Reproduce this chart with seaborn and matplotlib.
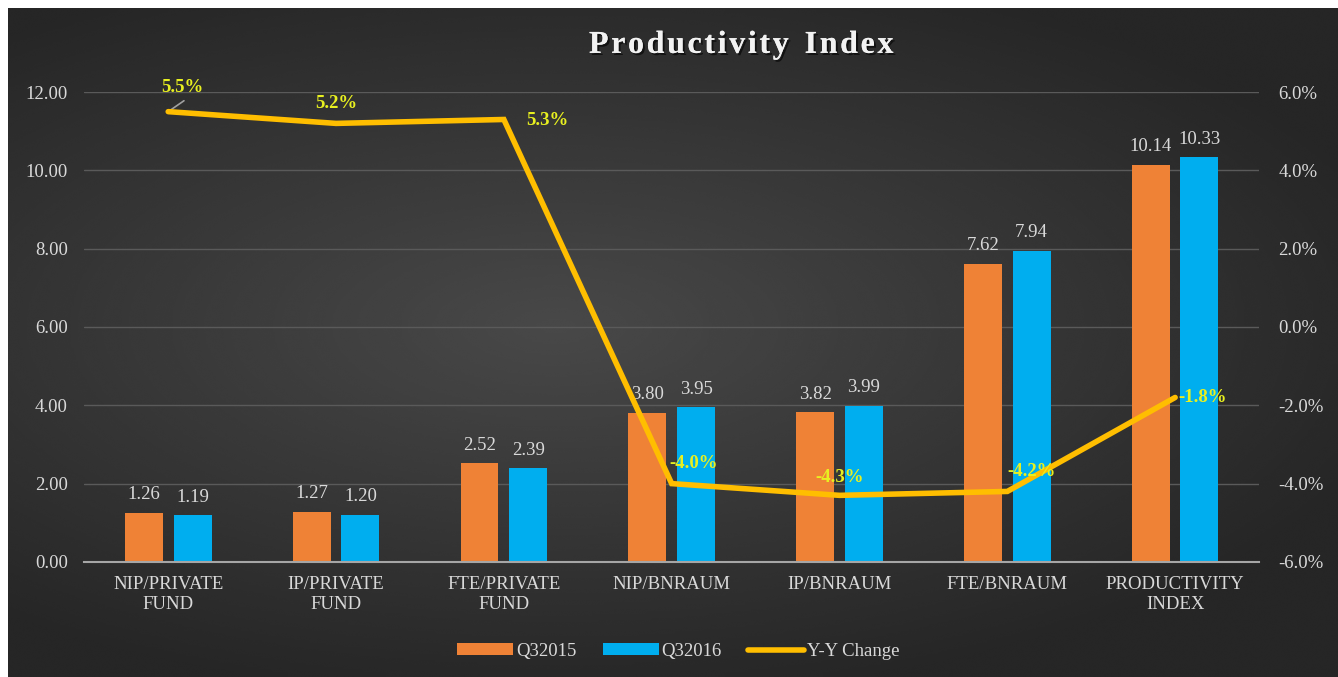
import numpy as np
import pandas as pd
import matplotlib
matplotlib.use("Agg")
import matplotlib.pyplot as plt
from matplotlib.lines import Line2D
from matplotlib.patches import Patch
import matplotlib.patheffects as pe
import seaborn as sns

# Data
categories = ["NIP/PRIVATE\nFUND", "IP/PRIVATE\nFUND", "FTE/PRIVATE\nFUND",
              "NIP/BNRAUM", "IP/BNRAUM", "FTE/BNRAUM", "PRODUCTIVITY\nINDEX"]
q32015 = [1.26, 1.27, 2.52, 3.80, 3.82, 7.62, 10.14]
q32016 = [1.19, 1.20, 2.39, 3.95, 3.99, 7.94, 10.33]
yy_change = [5.5, 5.2, 5.3, -4.0, -4.3, -4.2, -1.8]
series_names = ["Q32015", "Q32016"]

ORANGE = "#EF8236"
BLUE = "#00AEEF"
GOLD = "#FFBE00"
LABEL_YELLOW = "#E8F020"
TEXT = "#D9D9D9"
SERIF = "Liberation Serif"

df = pd.DataFrame({
    "category": categories * 2,
    "series": [series_names[0]] * len(categories) + [series_names[1]] * len(categories),
    "value": q32015 + q32016,
})

sns.set_theme(style="dark")
plt.rcParams["font.family"] = [SERIF, "DejaVu Serif"]

fig = plt.figure(figsize=(13.38, 6.77), dpi=100)
fig.patch.set_facecolor("white")

# dark gradient background (white strip on top and left like the source)
bg = fig.add_axes([8 / 1338, 0, 1 - 8 / 1338, 1 - 8 / 677])
gx, gy = np.meshgrid(np.linspace(-1, 1, 600), np.linspace(-1, 1, 300))
r = np.sqrt((gx * 0.85 + 0.15) ** 2 + (gy * 1.0 + 0.05) ** 2)
shade = np.clip(0.285 - 0.12 * r, 0.15, 0.30)
bg.imshow(shade, cmap="gray", vmin=0, vmax=1, aspect="auto", extent=[0, 1, 0, 1],
          interpolation="bicubic")
bg.set_axis_off()

ax = fig.add_axes([0.063, 0.170, 0.878, 0.694])
ax.patch.set_alpha(0)
sns.barplot(data=df, x="category", y="value", hue="series",
            palette=[ORANGE, BLUE], width=0.58, gap=0.22,
            saturation=1, ax=ax, legend=False, zorder=2,
            edgecolor="none", linewidth=0)

ax.set_ylim(0, 12)
ax.set_yticks(np.arange(0, 12.1, 2))
ax.set_yticklabels([f"{v:.2f}" for v in np.arange(0, 12.1, 2)])
ax.grid(axis="y", color="#5A5A5A", linewidth=1.0, zorder=0)
ax.grid(axis="x", visible=False)
ax.set_xlabel("")
ax.set_ylabel("")
for s in ["top", "right", "left"]:
    ax.spines[s].set_visible(False)
ax.spines["bottom"].set_color("#A6A6A6")
ax.spines["bottom"].set_linewidth(1.5)
ax.tick_params(axis="both", length=0, colors=TEXT, labelsize=13.5)
ax.tick_params(axis="x", pad=10)
ax.tick_params(axis="y", pad=12)
for lab in ax.get_xticklabels():
    lab.set_linespacing(1.25)
    lab.set_color(TEXT)

# bar value labels
for cont in ax.containers:
    ax.bar_label(cont, fmt="%.2f", padding=7, color=TEXT, fontsize=13.5)

# Y-Y change line on the secondary axis
ax2 = ax.twinx()
ax2.set_ylim(-6, 6)
ax2.set_yticks(np.arange(-6, 6.1, 2))
ax2.set_yticklabels([f"{v:.1f}%" for v in np.arange(-6, 6.1, 2)])
ax2.tick_params(axis="y", length=0, colors=TEXT, labelsize=13.5, pad=14)
for s in ax2.spines.values():
    s.set_visible(False)
ax2.grid(False)
xpos = np.arange(len(categories))
sns.lineplot(x=xpos, y=yy_change, color=GOLD, linewidth=4, ax=ax2,
             solid_capstyle="round", solid_joinstyle="miter", zorder=5)
ax.set_xlim(-0.5, len(categories) - 0.5)

# line labels: offsets in points (dx, dy, ha)
label_pos = [(10, 11, "center"), (0, 8, "center"), (16, -1, "left"),
             (-2, 8, "left"), (0, 7, "center"), (0, 8, "left"), (2, 0, "left")]
for i, (v, (dx, dy, ha)) in enumerate(zip(yy_change, label_pos)):
    va = "bottom" if dy > 4 else "center"
    ax2.annotate(f"{v:.1f}%", (xpos[i], v), xytext=(dx, dy), textcoords="offset points",
                 ha=ha, va=va, color=LABEL_YELLOW, fontsize=13.5, fontweight="bold", zorder=6)
# small leader line for the first label
ax2.annotate("", (xpos[0], yy_change[0]), xytext=(13, 9), textcoords="offset points",
             arrowprops=dict(arrowstyle="-", color="#A0A0A0", lw=1.2))

title = "\u200a".join("Productivity") + "  " + "\u200a".join("Index")
fig.text(0.554, 0.933, title, ha="center", va="center", color="#F2F2F2",
         fontsize=23, fontweight="bold", family=[SERIF, "DejaVu Serif"],
         path_effects=[pe.withSimplePatchShadow(offset=(1.5, -1.5), shadow_rgbFace="black", alpha=0.6),
                       pe.Normal()])

handles = [Patch(facecolor=ORANGE, edgecolor="none", label="Q32015"),
           Patch(facecolor=BLUE, edgecolor="none", label="Q32016"),
           Line2D([0], [0], color=GOLD, lw=4, solid_capstyle="round", label="Y-Y Change")]
fig.legend(handles=handles, loc="center", bbox_to_anchor=(0.507, 0.038), ncol=3,
           frameon=False, fontsize=13.5, labelcolor=TEXT, handlelength=3.0,
           handleheight=0.55, handletextpad=0.15, columnspacing=1.4)

fig.savefig("out.png", dpi=100, facecolor=fig.get_facecolor())
